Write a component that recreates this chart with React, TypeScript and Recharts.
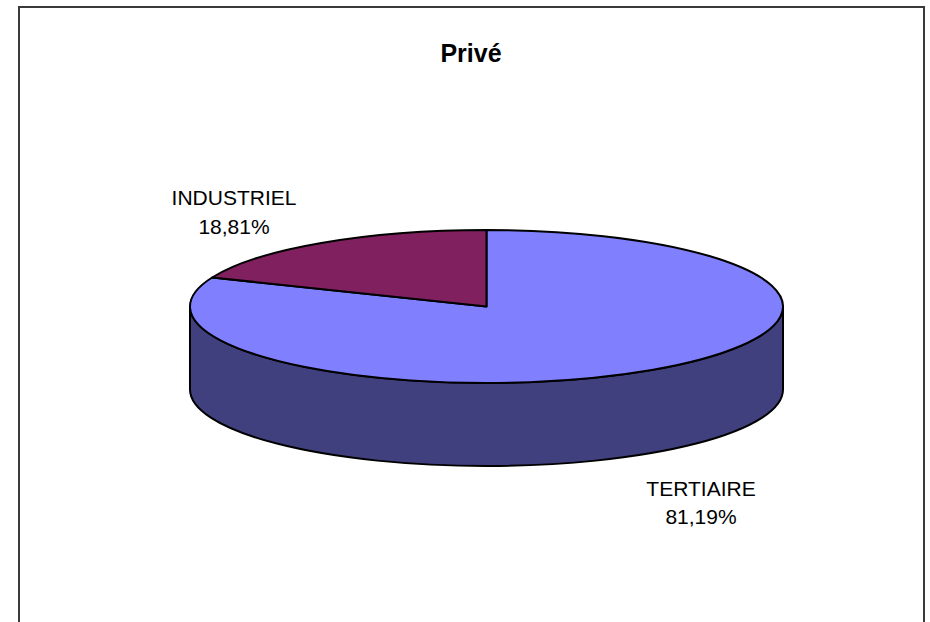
import { PieChart, Pie, Cell } from "recharts"

// sectors of private activity and their share (%)
const sectors = ["TERTIAIRE", "INDUSTRIEL"]
const shares = [81.19, 18.81]

const topColors: Record<string, string> = {
  TERTIAIRE: "#8080FF",
  INDUSTRIEL: "#80205F"
}
const sideColors: Record<string, string> = {
  TERTIAIRE: "#40407F",
  INDUSTRIEL: "#40102F"
}
// extra horizontal push for labels that Excel moves away from the pie
const labelShift: Record<string, number> = {
  TERTIAIRE: 0,
  INDUSTRIEL: -38
}

const data = sectors.map((name, i) => ({ name, value: shares[i] }))

const FONT = "'Liberation Sans', Arial, sans-serif"
const TILT = 0.258 // vertical squash of the pie disc
const DEPTH = 83 // thickness of the disc
const RAD = Math.PI / 180

const pt = (cx: number, cy: number, rx: number, ry: number, a: number) =>
  [cx + rx * Math.cos(-a * RAD), cy + ry * Math.sin(-a * RAD)]

// part of a sector that lies in the front half (angles -180..0), if any
function frontSpan(start: number, end: number): [number, number] | null {
  const lo = Math.min(start, end)
  const hi = Math.max(start, end)
  for (let k = -2; k <= 2; k++) {
    const a1 = Math.max(lo, -180 + 360 * k)
    const a2 = Math.min(hi, 360 * k)
    if (a2 > a1) return [a1, a2]
  }
  return null
}

function Slice3D(props: any) {
  const { cx, cy, outerRadius, startAngle, endAngle, payload } = props
  const name = payload?.name ?? props.name
  const rx = outerRadius
  const ry = outerRadius * TILT

  const [sx, sy] = pt(cx, cy, rx, ry, startAngle)
  const [ex, ey] = pt(cx, cy, rx, ry, endAngle)
  const large = Math.abs(endAngle - startAngle) > 180 ? 1 : 0
  const sweep = endAngle < startAngle ? 1 : 0
  const top = `M${cx},${cy} L${sx},${sy} A${rx},${ry} 0 ${large} ${sweep} ${ex},${ey} Z`

  let side = null
  const span = frontSpan(startAngle, endAngle)
  if (span) {
    const [a1, a2] = span
    const [x1, y1] = pt(cx, cy, rx, ry, a1)
    const [x2, y2] = pt(cx, cy, rx, ry, a2)
    const d =
      `M${x1},${y1} A${rx},${ry} 0 0 0 ${x2},${y2} ` +
      `L${x2},${y2 + DEPTH} A${rx},${ry} 0 0 1 ${x1},${y1 + DEPTH} Z`
    side = (
      <path d={d} fill={sideColors[name]} stroke="#000" strokeWidth={2} strokeLinejoin="round" />
    )
  }

  return (
    <g>
      {side}
      <path d={top} fill={topColors[name]} stroke="#000" strokeWidth={2} strokeLinejoin="round" />
    </g>
  )
}

function SliceLabel(props: any) {
  const { cx, cy, midAngle, payload, value } = props
  const name = payload?.name ?? props.name
  const c = Math.cos(-midAngle * RAD)
  const s = Math.sin(-midAngle * RAD)
  const x = cx + c * 385 + (labelShift[name] ?? 0)
  const y = cy + s * 125 + (s > 0 ? DEPTH : 0)
  const pct = Number(value).toFixed(2).replace(".", ",") + "%"
  return (
    <text x={x} y={y + 2.5} textAnchor="middle" fontFamily={FONT} fontSize={21} fill="#000">
      <tspan x={x}>{name}</tspan>
      <tspan x={x} dy={28.5}>{pct}</tspan>
    </text>
  )
}

export default function App() {
  return (
    <div
      style={{
        position: "absolute",
        left: 18,
        top: 6,
        width: 907,
        height: 660,
        boxSizing: "border-box",
        border: "2px solid #3a3a3a",
        background: "#fff"
      }}
    >
      <div
        style={{
          position: "absolute",
          left: 451,
          top: 33,
          transform: "translateX(-50%)",
          fontFamily: FONT,
          fontWeight: "bold",
          fontSize: 25,
          lineHeight: "25px",
          whiteSpace: "nowrap"
        }}
      >
        Privé
      </div>

      <PieChart width={903} height={656} margin={{ top: 0, right: 0, bottom: 0, left: 0 }}>
        <Pie
          data={data}
          dataKey="value"
          nameKey="name"
          cx={466.5}
          cy={298.5}
          outerRadius={296.5}
          startAngle={90}
          endAngle={-270}
          shape={Slice3D}
          label={SliceLabel}
          labelLine={false}
          isAnimationActive={false}
        >
          {data.map((d) => (
            <Cell key={d.name} fill={topColors[d.name]} />
          ))}
        </Pie>
      </PieChart>
    </div>
  )
}
